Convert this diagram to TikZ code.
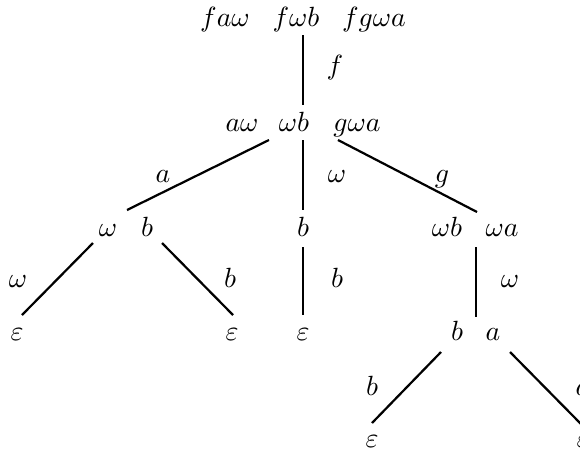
\documentclass[tikz,border=0pt]{standalone}
\begin{document}
\begin{tikzpicture}[x=0.36pt,y=-0.36pt,
  lab/.style={inner sep=0pt,anchor=base},
  edge/.style={line width=0.8pt}]
\useasboundingbox (0,0) rectangle (580,455);
% row 1
\node[lab] (r1a) at (225,26) {$fa\omega$};
\node[lab] (r1b) at (296,26) {$f\omega b$};
\node[lab] (r1c) at (374,26) {$fg\omega a$};
% row 2
\node[lab] (r2a) at (242,131) {$a\omega$};
\node[lab] (r2b) at (294,131) {$\omega b$};
\node[lab] (r2c) at (357,131) {$g\omega a$};
% row 3
\node[lab] (r3a) at (108,236) {$\omega$};
\node[lab] (r3b) at (147,236) {$b$};
\node[lab] (r3c) at (303,236) {$b$};
\node[lab] (r3d) at (447,236) {$\omega b$};
\node[lab] (r3e) at (502,236) {$\omega a$};
% row 4
\node[lab] (r4a) at (17,340) {$\varepsilon$};
\node[lab] (r4b) at (232,340) {$\varepsilon$};
\node[lab] (r4c) at (303,340) {$\varepsilon$};
\node[lab] (r4d) at (457,340) {$b$};
\node[lab] (r4e) at (493,340) {$a$};
% row 5
\node[lab] (r5a) at (372,447) {$\varepsilon$};
\node[lab] (r5b) at (583,447) {$\varepsilon$};
% edge labels
\node[lab] (lf) at (335,74) {$f$};
\node[lab] (la) at (163,182) {$a$};
\node[lab] (lw) at (337,182) {$\omega$};
\node[lab] (lg) at (442,182) {$g$};
\node[lab] (lw2) at (18,287) {$\omega$};
\node[lab] (lb1) at (230,287) {$b$};
\node[lab] (lb2) at (337,287) {$b$};
\node[lab] (lw3) at (510,287) {$\omega$};
\node[lab] (lb3) at (372,395) {$b$};
\node[lab] (la2) at (583,395) {$a$};
% edge endpoints
\coordinate (e1s) at (303,35);  \coordinate (e1t) at (303,105);
\coordinate (e2s) at (269,140); \coordinate (e2t) at (127,210);
\coordinate (e3s) at (303,140); \coordinate (e3t) at (303,210);
\coordinate (e4s) at (338,140); \coordinate (e4t) at (477,212);
\coordinate (e5s) at (93,243);  \coordinate (e5t) at (22,315);
\coordinate (e6s) at (162,243); \coordinate (e6t) at (233,315);
\coordinate (e7s) at (303,247); \coordinate (e7t) at (303,315);
\coordinate (e8s) at (476,247); \coordinate (e8t) at (476,317);
\coordinate (e9s) at (441,352); \coordinate (e9t) at (372,423);
\coordinate (e10s) at (510,352); \coordinate (e10t) at (581,424);
\draw[edge] (e1s) -- (e1t);
\draw[edge] (e2s) -- (e2t);
\draw[edge] (e3s) -- (e3t);
\draw[edge] (e4s) -- (e4t);
\draw[edge] (e5s) -- (e5t);
\draw[edge] (e6s) -- (e6t);
\draw[edge] (e7s) -- (e7t);
\draw[edge] (e8s) -- (e8t);
\draw[edge] (e9s) -- (e9t);
\draw[edge] (e10s) -- (e10t);
\end{tikzpicture}
\end{document}
